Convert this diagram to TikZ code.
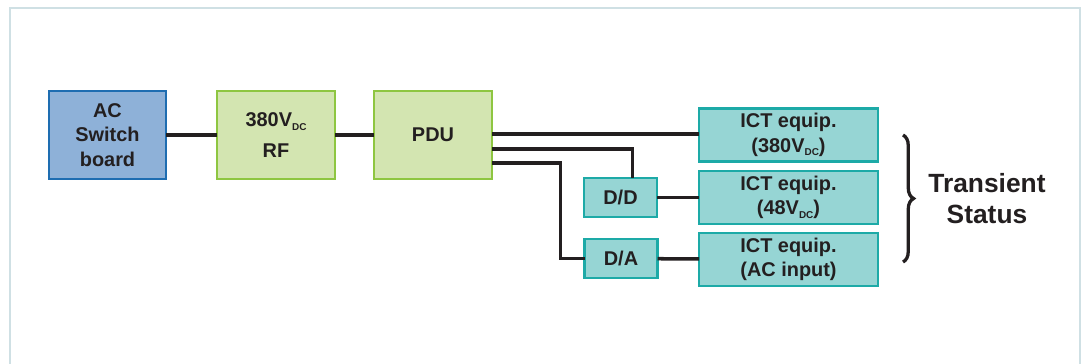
\documentclass[tikz,border=0pt]{standalone}
\usepackage{fontspec}
\setmainfont{Liberation Sans}
\usetikzlibrary{calc,decorations.pathreplacing}

\definecolor{boardfill}{HTML}{8EB1D8}
\definecolor{boardline}{HTML}{1E6DB1}
\definecolor{rffill}{HTML}{D3E5B1}
\definecolor{rfline}{HTML}{8EC641}
\definecolor{ictfill}{HTML}{96D5D4}
\definecolor{ictline}{HTML}{1DAAA7}
\definecolor{inkgray}{HTML}{231F20}
\definecolor{framecol}{HTML}{CFE0E4}

\newcommand{\dcsub}{\raisebox{-3pt}{\fontsize{8.5}{8.5}\selectfont DC}}

\begin{document}
\begin{tikzpicture}[x=0.03cm, y=-0.03cm,
        box/.style={draw, line width=2pt, inner sep=0pt, outer sep=0pt,
            align=center, text=inkgray, font=\fontsize{17}{21}\selectfont\bfseries},
        board/.style={box, fill=boardfill, draw=boardline, minimum width=117*0.03cm, minimum height=88*0.03cm},
        conv/.style={box, fill=rffill, draw=rfline, minimum width=118*0.03cm, minimum height=88*0.03cm},
        ict/.style={box, fill=ictfill, draw=ictline, minimum width=179*0.03cm, minimum height=53*0.03cm},
        small/.style={box, fill=ictfill, draw=ictline, minimum width=73*0.03cm, minimum height=39*0.03cm},
        wire/.style={draw=inkgray, line width=3pt}]
        \useasboundingbox (0,0) rectangle (1083,364);
        \draw[framecol, line width=1pt] (10,380) -- (10,8) -- (1080,8) -- (1080,380);

        % source side
        \node[board] (sw) at (107.5,135) {AC\\Switch\\board};
        \node[conv] (rf) at (276,135) {380V\dcsub\\[5pt]RF};
        \node[conv] (pdu) at (433,135) {PDU};

        % loads
        \node[ict] (ict1) at (788.5,135) {ICT equip.\\(380V\dcsub)};
        \node[ict] (ict2) at (788.5,197.5) {ICT equip.\\(48V\dcsub)};
        \node[ict] (ict3) at (788.5,259.5) {ICT equip.\\(AC input)};
        \node[small] (dd) at (620.5,197.5) {D/D};
        \node[small] (da) at (621,258.5) {D/A};

        \draw[wire] (sw) -- (rf);
        \draw[wire] (rf) -- (pdu);
        \draw[wire] ($(pdu.east)+(0,-1)$) -- (ict1.west |- {$(pdu.east)+(0,-1)$});
        \draw[wire] ($(pdu.east)+(0,14)$) -| ($(dd.north)+(12,0)$);
        \draw[wire] ($(pdu.east)+(0,28)$) -| ($(da.west)+(-24,0)$) -- (da.west);
        \draw[wire] (dd) -- (ict2);
        \draw[wire] (da) -- (ict3);

        % brace
        \coordinate (bt) at (903,135);
        \coordinate (bb) at (903,262);
        \draw[inkgray, line width=2.8pt, decorate, decoration={brace, amplitude=9pt}] (bt) -- (bb);
        \node[align=center, text=inkgray, font=\fontsize{22.5}{26.5}\selectfont\bfseries] (ts) at (987,199) {Transient\\Status};
\end{tikzpicture}
\end{document}
